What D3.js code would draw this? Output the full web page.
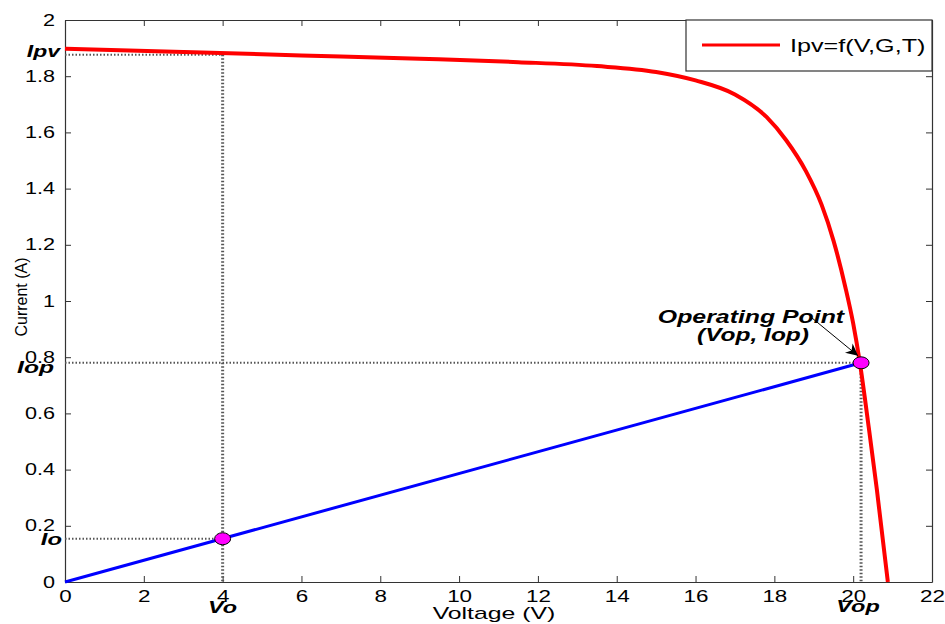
<!DOCTYPE html>
<html>
<head>
<meta charset="utf-8">
<script src="https://cdn.jsdelivr.net/npm/d3@7"></script>
<style>
  body { margin: 0; background: #fff; }
  svg text { font-family: "Liberation Sans", Arial, sans-serif; }
</style>
</head>
<body>
<div id="chart"></div>
<script>
// I-V curve
var curveV = [0, 3, 6, 9, 11.5, 13.5, 15, 16, 17, 17.8, 18.3, 18.8, 19.2, 19.5, 19.8, 20.0, 20.17, 20.4, 20.6, 20.88];
var curveI = [1.898, 1.886, 1.874, 1.862, 1.850, 1.836, 1.815, 1.785, 1.735, 1.655, 1.572, 1.462, 1.342, 1.215, 1.05, 0.92, 0.78, 0.545, 0.33, 0];

// load line (from origin through operating point)
var loadV = [0, 20.2];
var loadI = [0, 0.78];

// marked points
var pointNames = ["Vo", "Vop"];
var pointV = [4, 20.2];
var pointI = [0.154, 0.78];
var ipvLevel = 1.876;

var xTicks = [0, 2, 4, 6, 8, 10, 12, 14, 16, 18, 20, 22];
var yTicks = [0, 0.2, 0.4, 0.6, 0.8, 1, 1.2, 1.4, 1.6, 1.8, 2];

var width = 945, height = 624;
var margin = { top: 20, right: 13, bottom: 42, left: 65 };
var innerW = width - margin.left - margin.right;
var innerH = height - margin.top - margin.bottom;

var x = d3.scaleLinear().domain([0, 22]).range([0, innerW]);
var y = d3.scaleLinear().domain([0, 2]).range([innerH, 0]);

var svg = d3.select("#chart").append("svg")
    .attr("width", width)
    .attr("height", height);

// the reference text is wide, so stretch it sideways around its anchor
function stretch(sel, k) {
    sel.each(function () {
        var t = d3.select(this);
        var ax = +t.attr("x") || 0;
        t.attr("transform", `translate(${ax},0) scale(${k},1) translate(${-ax},0)`);
    });
}

var defs = svg.append("defs");
defs.append("marker")
    .attr("id", "arrow")
    .attr("viewBox", "0 0 10 10")
    .attr("refX", 10).attr("refY", 5)
    .attr("markerWidth", 15).attr("markerHeight", 12)
    .attr("markerUnits", "userSpaceOnUse")
    .attr("orient", "auto")
    .append("path")
    .attr("d", "M0,0 L10,5 L0,10 L3,5 Z")
    .attr("fill", "#000");

var g = svg.append("g")
    .attr("transform", `translate(${margin.left}, ${margin.top})`);

// axes, matlab style: ticks inside, box all round
var axisColor = "#333";
function styleAxis(sel) {
    sel.selectAll("path").attr("stroke", axisColor).attr("stroke-width", 1.2);
    sel.selectAll("line").attr("stroke", axisColor);
    sel.selectAll("text").attr("fill", "#000").style("font-size", "16px")
        .style("font-family", "'Liberation Sans', Arial, sans-serif");
}

var xAxis = g.append("g")
    .attr("transform", `translate(0, ${innerH})`)
    .call(d3.axisBottom(x).tickValues(xTicks).tickSizeInner(-6).tickSizeOuter(0).tickPadding(9));
styleAxis(xAxis);
stretch(xAxis.selectAll("text"), 1.4);

var yAxis = g.append("g")
    .call(d3.axisLeft(y).tickValues(yTicks).tickSizeInner(-6).tickSizeOuter(0).tickPadding(10)
        .tickFormat(d3.format("~g")));
styleAxis(yAxis);
stretch(yAxis.selectAll("text"), 1.35);

var topAxis = g.append("g")
    .call(d3.axisTop(x).tickValues(xTicks).tickSizeInner(-6).tickSizeOuter(0).tickFormat(""));
styleAxis(topAxis);

var rightAxis = g.append("g")
    .attr("transform", `translate(${innerW}, 0)`)
    .call(d3.axisRight(y).tickValues(yTicks).tickSizeInner(-6).tickSizeOuter(0).tickFormat(""));
styleAxis(rightAxis);

// dotted guide lines
function dotted(x1, y1, x2, y2, w) {
    g.append("line")
        .attr("x1", x(x1)).attr("y1", y(y1))
        .attr("x2", x(x2)).attr("y2", y(y2))
        .attr("stroke", "#555")
        .attr("stroke-width", w)
        .attr("stroke-dasharray", "1.5,2");
}
dotted(0, ipvLevel, pointV[0], ipvLevel, 2);
dotted(pointV[0], ipvLevel, pointV[0], 0, 3);
dotted(0, pointI[0], pointV[0], pointI[0], 2);
dotted(0, pointI[1], pointV[1], pointI[1], 2);
dotted(pointV[1], pointI[1], pointV[1], 0, 3);

// load line
var line = d3.line().x(d => x(d[0])).y(d => y(d[1]));
g.append("path")
    .datum(loadV.map((v, i) => [v, loadI[i]]))
    .attr("fill", "none")
    .attr("stroke", "#0000ff")
    .attr("stroke-width", 3)
    .attr("d", line);

// I-V curve
var curveLine = d3.line().x(d => x(d[0])).y(d => y(d[1])).curve(d3.curveMonotoneX);
g.append("path")
    .datum(curveV.map((v, i) => [v, curveI[i]]))
    .attr("fill", "none")
    .attr("stroke", "#ff0000")
    .attr("stroke-width", 4)
    .attr("d", curveLine);

// markers
g.selectAll("ellipse.pt")
    .data(pointV)
    .enter().append("ellipse")
    .attr("class", "pt")
    .attr("cx", (d, i) => x(d))
    .attr("cy", (d, i) => y(pointI[i]))
    .attr("rx", 8).attr("ry", 6)
    .attr("fill", "#ff00ff")
    .attr("stroke", "#000")
    .attr("stroke-width", 1);

// bold italic point labels
function label(txt, px, py, anchor, k) {
    var t = svg.append("text")
        .attr("x", px).attr("y", py)
        .attr("text-anchor", anchor)
        .style("font-size", "17px")
        .style("font-weight", "bold")
        .style("font-style", "italic")
        .text(txt);
    stretch(t, k);
}
label("Ipv", 60, 57, "end", 1.35);
label("Iop", 54, 373, "end", 1.45);
label("Io", 62, 545, "end", 1.4);
label(pointNames[0], margin.left + x(pointV[0]), 613, "middle", 1.38);
label(pointNames[1], margin.left + x(pointV[1]) - 3, 612, "middle", 1.38);

// annotation
var ann = svg.append("g").style("font-size", "18px").style("font-weight", "bold").style("font-style", "italic");
stretch(ann.append("text").attr("x", 751).attr("y", 323).attr("text-anchor", "middle").text("Operating Point"), 1.38);
stretch(ann.append("text").attr("x", 753).attr("y", 341).attr("text-anchor", "middle").text("(Vop, Iop)"), 1.36);
svg.append("line")
    .attr("x1", 812).attr("y1", 318)
    .attr("x2", margin.left + x(pointV[1]) - 3).attr("y2", margin.top + y(pointI[1]) - 7)
    .attr("stroke", "#000")
    .attr("stroke-width", 1)
    .attr("marker-end", "url(#arrow)");

// axis titles
var xTitle = svg.append("text")
    .attr("x", 494)
    .attr("y", 619)
    .attr("text-anchor", "middle")
    .style("font-size", "16px")
    .text("Voltage (V)");
stretch(xTitle, 1.55);

svg.append("text")
    .attr("transform", "rotate(-90)")
    .attr("x", -297)
    .attr("y", 27)
    .attr("text-anchor", "middle")
    .style("font-size", "16px")
    .text("Current (A)");

// legend
var legend = svg.append("g");
legend.append("rect")
    .attr("x", 686).attr("y", 20)
    .attr("width", width - margin.right - 686).attr("height", 51)
    .attr("fill", "#fff")
    .attr("stroke", axisColor)
    .attr("stroke-width", 1.2);
legend.append("line")
    .attr("x1", 702).attr("x2", 780)
    .attr("y1", 45).attr("y2", 45)
    .attr("stroke", "#ff0000")
    .attr("stroke-width", 3);
var legText = legend.append("text")
    .attr("x", 790).attr("y", 52)
    .style("font-size", "18px")
    .text("Ipv=f(V,G,T)");
stretch(legText, 1.4);
</script>
</body>
</html>
